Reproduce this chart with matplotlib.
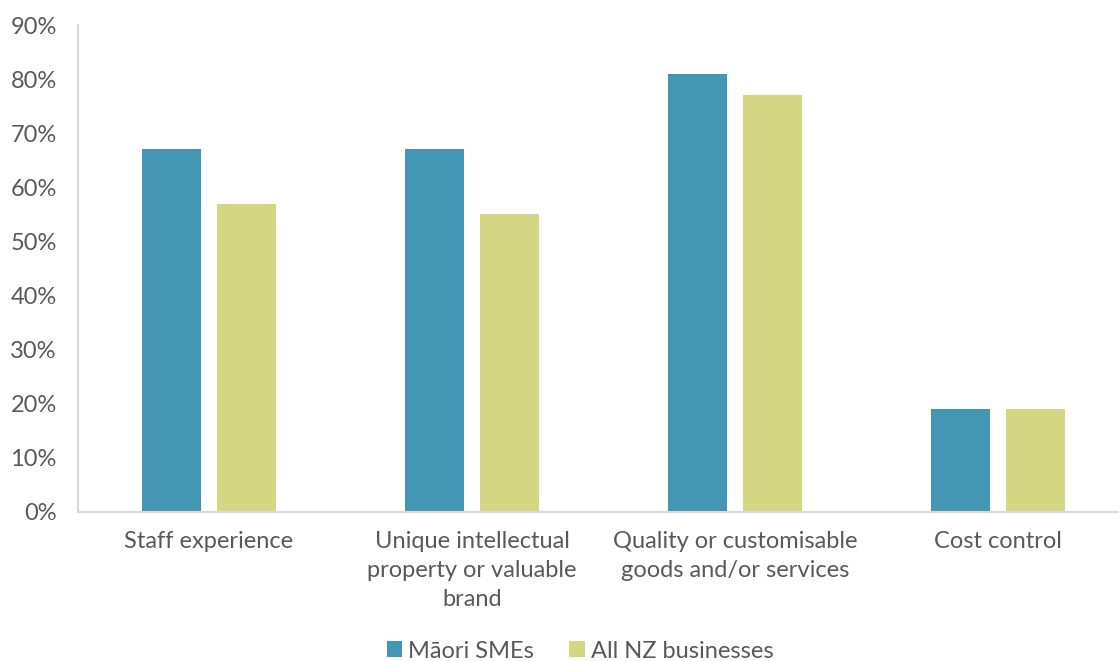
import matplotlib
matplotlib.use("Agg")
import matplotlib.pyplot as plt
import numpy as np

categories = ["Staff experience", "Unique intellectual\nproperty or valuable\nbrand",
              "Quality or customisable\ngoods and/or services", "Cost control"]
series_names = ["Māori SMEs", "All NZ businesses"]
maori = [67, 67, 81, 19]
all_nz = [57, 55, 77, 19]
yticks = [0, 10, 20, 30, 40, 50, 60, 70, 80, 90]
ytick_labels = [f"{v}%" for v in yticks]

plt.rcParams['font.family'] = ['Lato', 'DejaVu Sans']
text_color = "#595959"

fig = plt.figure(figsize=(11.19, 6.61), dpi=100)
ax = fig.add_axes([77.5/1119, 1 - 512/661, 1052/1119, (512-25)/661])

x = np.arange(len(categories))
w = 0.224
off = 0.142
ax.bar(x - off, maori, width=w, color="#4397B5", label=series_names[0])
ax.bar(x + off, all_nz, width=w, color="#D3D682", label=series_names[1])

ax.set_xlim(-0.5, 3.5)
ax.set_ylim(0, 90)
ax.set_yticks(yticks)
ax.set_yticklabels(ytick_labels)
ax.set_xticks(x)
ax.set_xticklabels(categories, linespacing=1.45)
ax.tick_params(axis='both', length=0, labelsize=17, colors=text_color)
ax.tick_params(axis='y', pad=15)
ax.tick_params(axis='x', pad=14)

for s in ["top", "right"]:
    ax.spines[s].set_visible(False)
for s in ["left", "bottom"]:
    ax.spines[s].set_color("#D9D9D9")
    ax.spines[s].set_linewidth(1.5)

leg = fig.legend(loc="center", bbox_to_anchor=(580/1119, 1 - 651/661), ncol=2,
                 frameon=False, fontsize=17, handlelength=0.65, handleheight=0.65,
                 columnspacing=1.5, handletextpad=0.25)
for t in leg.get_texts():
    t.set_color(text_color)

fig.savefig("out.png", dpi=100)
